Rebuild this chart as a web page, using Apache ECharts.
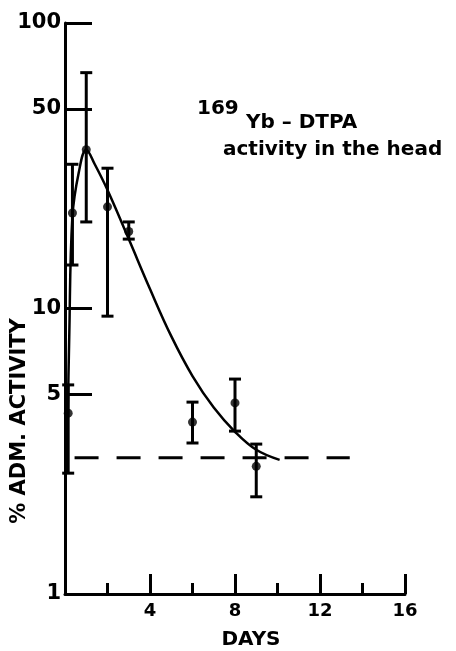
<!DOCTYPE html>
<html>
<head>
<meta charset="utf-8">
<script src="https://cdn.jsdelivr.net/npm/echarts@6/dist/echarts.min.js"></script>
<style>
  html, body { margin: 0; padding: 0; background: #fff; }
  #chart { width: 456px; height: 651px; }
</style>
</head>
<body>
<div id="chart"></div>
<script>
// measured days and mean % administered activity, with error bar ends
const days = [0.15, 0.35, 1, 2, 3, 6, 8, 9]
const means = [4.3, 21.6, 36, 22.7, 18.6, 4.0, 4.67, 2.8]
const highs = [5.4, 32, 67, 31, 20.1, 4.7, 5.66, 3.35]
const lows = [2.65, 14.2, 20.1, 9.4, 17.5, 3.38, 3.72, 2.19]

// fitted curve
const curveDays = [0.1, 0.2, 0.35, 0.65, 1.0, 1.4, 2.0, 3.0, 4.0, 5.0, 6.0, 7.0, 8.0, 9.0, 10.1]
const curveVals = [3.0, 8, 21, 30, 36, 32, 26, 17.5, 11.7, 8.0, 5.8, 4.5, 3.7, 3.2, 2.95]

// background level (dashed)
const baseDays = [0.45, 13.4]
const baseVal = 3.0

const yTicks = [1, 5, 10, 50, 100]
const xLabels = [4, 8, 12, 16]

const font = '"DejaVu Sans", "Liberation Sans", sans-serif'
const chart = echarts.init(document.getElementById('chart'), null, { renderer: 'canvas' })

const errData = days.map((d, i) => [d, lows[i], highs[i]])

chart.setOption({
  animation: false,
  grid: { left: 65, right: 51, top: 23, bottom: 57 },
  xAxis: {
    type: 'value',
    min: 0,
    max: 16,
    interval: 4,
    axisLine: { show: true, lineStyle: { color: '#000', width: 3 } },
    axisTick: { show: true, inside: true, length: 20, lineStyle: { color: '#000', width: 3 } },
    minorTick: { show: true, splitNumber: 2, length: 11, lineStyle: { color: '#000', width: 3 } },
    splitLine: { show: false },
    axisLabel: {
      margin: 8,
      color: '#000',
      fontFamily: font,
      fontWeight: 'bold',
      fontSize: 18,
      formatter: v => (xLabels.includes(v) ? String(v) : '')
    }
  },
  yAxis: {
    type: 'log',
    logBase: 10,
    min: 1,
    max: 100,
    axisLine: { show: true, lineStyle: { color: '#000', width: 3 } },
    axisTick: { show: true, inside: true, length: 27, customValues: yTicks, lineStyle: { color: '#000', width: 3 } },
    splitLine: { show: false },
    axisLabel: {
      margin: 4,
      color: '#000',
      fontFamily: font,
      fontWeight: 'bold',
      fontSize: 21,
      customValues: yTicks,
      formatter: v => String(Math.round(v))
    }
  },
  graphic: [
    {
      type: 'text', left: 197, top: 99,
      style: { text: '169', font: 'bold 20px ' + font, fill: '#000' }
    },
    {
      type: 'text', left: 246, top: 113,
      style: { text: 'Yb \u2013 DTPA', font: 'bold 20px ' + font, fill: '#000' }
    },
    {
      type: 'text', left: 223, top: 140,
      style: { text: 'activity in the head', font: 'bold 20px ' + font, fill: '#000' }
    },
    {
      type: 'text', x: 20, y: 421, rotation: Math.PI / 2,
      style: { text: '% ADM. ACTIVITY', font: 'bold 21px ' + font, fill: '#000', align: 'center', verticalAlign: 'middle' }
    },
    {
      type: 'text', x: 251, y: 640,
      style: { text: 'DAYS', font: 'bold 20px ' + font, fill: '#000', align: 'center', verticalAlign: 'middle' }
    }
  ],
  series: [
    {
      type: 'line',
      data: baseDays.map(d => [d, baseVal]),
      symbol: 'none',
      lineStyle: { color: '#000', width: 3, type: [24, 18] },
      z: 2
    },
    {
      type: 'line',
      data: curveDays.map((d, i) => [d, curveVals[i]]),
      symbol: 'none',
      smooth: 0.4,
      lineStyle: { color: '#000', width: 2.5 },
      z: 3
    },
    {
      type: 'custom',
      data: errData,
      renderItem: (params, api) => {
        const x = api.value(0)
        const lo = api.coord([x, api.value(1)])
        const hi = api.coord([x, api.value(2)])
        const hw = 6
        const st = { stroke: '#000', lineWidth: 3 }
        return {
          type: 'group',
          children: [
            { type: 'line', shape: { x1: lo[0], y1: lo[1], x2: hi[0], y2: hi[1] }, style: st },
            { type: 'line', shape: { x1: lo[0] - hw, y1: lo[1], x2: lo[0] + hw, y2: lo[1] }, style: st },
            { type: 'line', shape: { x1: hi[0] - hw, y1: hi[1], x2: hi[0] + hw, y2: hi[1] }, style: st }
          ]
        }
      },
      z: 4
    },
    {
      type: 'scatter',
      data: days.map((d, i) => [d, means[i]]),
      symbol: 'circle',
      symbolSize: 9,
      itemStyle: { color: '#000' },
      z: 5
    }
  ]
})
</script>
</body>
</html>
